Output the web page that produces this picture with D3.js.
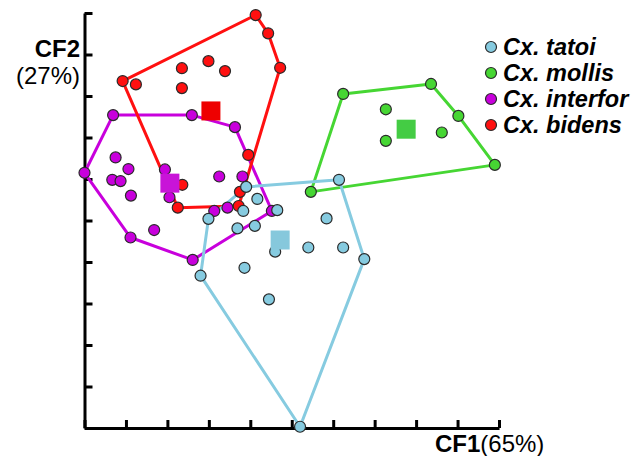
<!DOCTYPE html>
<html>
<head>
<meta charset="utf-8">
<script src="https://cdn.jsdelivr.net/npm/d3@7"></script>
<style>
  body { margin: 0; background: #fff; }
  svg { font-family: Arial, "Liberation Sans", Helvetica, sans-serif; }
  .axis path, .axis line { stroke: #000; stroke-width: 3px; }
</style>
</head>
<body>
<svg id="chart"></svg>
<script>
// species names (legend order)
const species = ['Cx. tatoi', 'Cx. mollis', 'Cx. interfor', 'Cx. bidens'];

// CF1 / CF2 scores for each individual
const tatoiPoints = [
  [3.90, 5.81], [4.17, 5.52], [3.83, 5.23], [4.65, 5.25], [2.99, 5.04],
  [3.69, 4.81], [4.11, 4.87], [6.14, 5.98], [5.84, 5.05], [4.60, 4.25],
  [5.40, 4.35], [6.24, 4.35], [6.75, 4.07], [3.86, 3.86], [2.80, 3.67],
  [4.45, 3.10], [5.20, 0.03],
];
const mollisPoints = [
  [6.24, 8.05], [8.36, 8.29], [9.02, 7.52], [9.90, 6.34], [5.46, 5.69],
  [7.27, 7.68], [7.27, 6.92], [8.62, 7.12],
];
const interforPoints = [
  [0.69, 7.54], [2.59, 7.54], [3.63, 7.25], [0.00, 6.15], [0.75, 6.52],
  [1.06, 6.24], [0.67, 5.98], [0.87, 5.95], [1.12, 5.60], [1.94, 6.23],
  [2.05, 5.56], [3.25, 6.06], [3.81, 6.06], [3.13, 5.23], [3.45, 5.31],
  [4.52, 5.23], [1.68, 4.77], [1.11, 4.59], [2.61, 4.05],
];
const bidensPoints = [
  [4.13, 9.95], [4.43, 9.51], [4.72, 8.68], [0.92, 8.36], [1.24, 8.28],
  [2.35, 8.67], [2.99, 8.84], [3.39, 8.60], [2.35, 8.19], [3.95, 6.58],
  [2.36, 5.86], [2.25, 5.31], [3.75, 5.69], [3.72, 5.35],
];

// group centroids
const centroids = [[4.72, 4.53], [7.76, 7.20], [2.06, 5.90], [3.05, 7.64]];

// axis tick values
const tickValues = [0, 1, 2, 3, 4, 5, 6, 7, 8, 9, 10];

const lineColors = ['#86cbe0', '#46d633', '#c800dc', '#ff1010'];
const squareColors = ['#86c8dc', '#44cc44', '#c814d8', '#ee0000'];

const width = 644;
const height = 456;

const groups = [tatoiPoints, mollisPoints, interforPoints, bidensPoints];

const xScale = d3.scaleLinear().domain([0, 10]).range([84.5, 499]);
const yScale = d3.scaleLinear().domain([0, 10]).range([428, 13]);

const svg = d3.select('#chart')
  .attr('width', width)
  .attr('height', height);

// axes, ticks pointing inward, no labels
svg.append('g')
  .attr('class', 'axis')
  .attr('transform', `translate(0,${yScale(0)})`)
  .call(d3.axisBottom(xScale).tickValues(tickValues).tickSize(-8).tickSizeOuter(0).tickFormat(''));

svg.append('g')
  .attr('class', 'axis')
  .attr('transform', `translate(${xScale(0)},0)`)
  .call(d3.axisLeft(yScale).tickValues(tickValues).tickSize(-8).tickSizeOuter(0).tickFormat(''));

// convex hulls
const lineDraw = d3.line().x(d => xScale(d[0])).y(d => yScale(d[1]));
const drawOrder = [2, 3, 1, 0];

drawOrder.forEach(i => {
  const hull = d3.polygonHull(groups[i]);
  svg.append('path')
    .datum(hull)
    .attr('d', d => lineDraw(d) + 'Z')
    .attr('fill', 'none')
    .attr('stroke', lineColors[i])
    .attr('stroke-width', 3)
    .attr('stroke-linejoin', 'round');
});

// individual points
drawOrder.forEach(i => {
  svg.append('g')
    .selectAll('circle')
    .data(groups[i])
    .join('circle')
    .attr('cx', d => xScale(d[0]))
    .attr('cy', d => yScale(d[1]))
    .attr('r', 5.5)
    .attr('fill', lineColors[i])
    .attr('stroke', '#2a2a2a')
    .attr('stroke-width', 1.2);
});

// centroid squares
const sq = 19;
svg.append('g')
  .selectAll('rect')
  .data(centroids)
  .join('rect')
  .attr('x', d => xScale(d[0]) - sq / 2)
  .attr('y', d => yScale(d[1]) - sq / 2)
  .attr('width', sq)
  .attr('height', sq)
  .attr('fill', (d, i) => squareColors[i]);

// axis labels
svg.append('text')
  .attr('x', 80)
  .attr('y', 57)
  .attr('text-anchor', 'end')
  .attr('font-size', 24)
  .attr('font-weight', 'bold')
  .text('CF2');

svg.append('text')
  .attr('x', 80)
  .attr('y', 84)
  .attr('text-anchor', 'end')
  .attr('font-size', 24)
  .text('(27%)');

const xLabel = svg.append('text')
  .attr('x', 435)
  .attr('y', 452)
  .attr('font-size', 24);
xLabel.append('tspan').attr('font-weight', 'bold').text('CF1');
xLabel.append('tspan').text('(65%)');

// legend
const legend = svg.append('g')
  .selectAll('g')
  .data(species)
  .join('g')
  .attr('transform', (d, i) => `translate(491,${47 + i * 26})`);

legend.append('circle')
  .attr('r', 5.5)
  .attr('fill', (d, i) => lineColors[i])
  .attr('stroke', '#2a2a2a')
  .attr('stroke-width', 1.2);

legend.append('text')
  .attr('x', 12)
  .attr('y', 8)
  .attr('font-size', 23.5)
  .attr('font-weight', 'bold')
  .attr('font-style', 'italic')
  .text(d => d);
</script>
</body>
</html>
